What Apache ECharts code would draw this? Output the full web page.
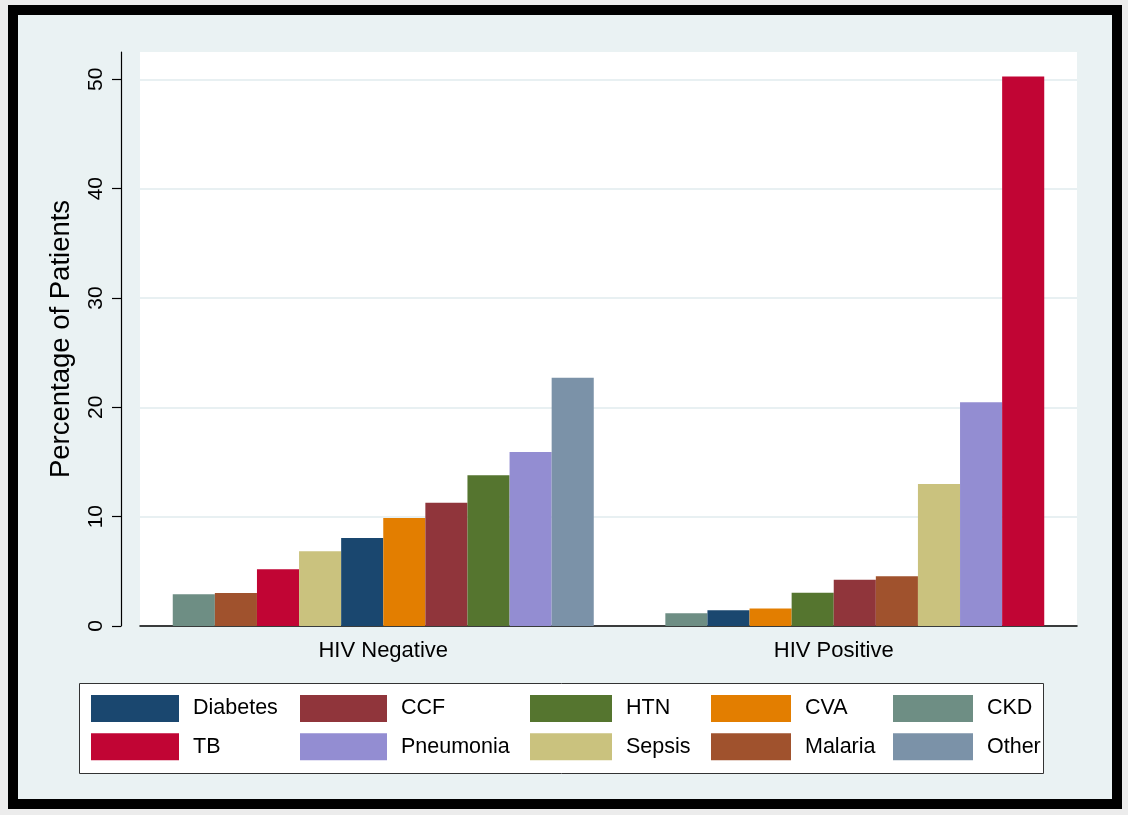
<!DOCTYPE html>
<html><head><meta charset="utf-8">
<script src="https://cdn.jsdelivr.net/npm/echarts@6/dist/echarts.min.js"></script>
<style>
html,body{margin:0;padding:0;background:#ececec;}
#frame{position:absolute;left:8px;top:5px;width:1114px;height:804px;box-sizing:border-box;border:10px solid #000;background:#eaf2f3;}
#chart{position:absolute;left:0;top:0;width:1128px;height:815px;}
</style></head><body>
<div id="frame"></div><div id="chart"></div>
<script>
const groups = ['HIV Negative', 'HIV Positive'];
const diseases = ['Diabetes', 'CCF', 'HTN', 'CVA', 'CKD', 'TB', 'Pneumonia', 'Sepsis', 'Malaria', 'Other'];
const hivNegative = [8.05, 11.28, 13.78, 9.88, 2.90, 5.18, 15.91, 6.84, 3.02, 22.71];
const hivPositive = [1.44, 4.24, 3.03, 1.59, 1.17, 50.26, 20.46, 12.99, 4.55, null];
const yTicks = [0, 10, 20, 30, 40, 50];

const colors = ['#1a476f', '#90353b', '#55752f', '#e37e00', '#6e8e84', '#c10534', '#938dd2', '#cac27e', '#a0522d', '#7b92a8'];
const FONT = '"Liberation Sans", Arial, sans-serif';

const groupValues = [hivNegative, hivPositive];
// bars within each group are sorted ascending (missing values first, drawn empty)
const sortedIdx = groupValues.map(vals =>
  diseases.map((d, i) => i).sort((a, b) => {
    const va = vals[a] == null ? -Infinity : vals[a];
    const vb = vals[b] == null ? -Infinity : vals[b];
    return va - vb;
  })
);

const rankSeries = diseases.map((_, r) => ({
  type: 'bar',
  name: 'rank' + r,
  barWidth: 42.1,
  barGap: '0%',
  silent: true,
  data: groupValues.map((vals, g) => {
    const i = sortedIdx[g][r];
    return {
      name: diseases[i],
      value: [g, vals[i] == null ? '-' : vals[i]],
      itemStyle: { color: colors[i] }
    };
  })
}));

const legendSeries = diseases.map((d, i) => ({
  type: 'line', name: d, data: [], color: colors[i], itemStyle: { color: colors[i] }
}));

const legendCols = [[0, 5], [1, 6], [2, 7], [3, 8], [4, 9]];
const colLeft = [91, 300, 530, 711, 893];
const colW = [88, 87, 82, 80, 80];

const chart = echarts.init(document.getElementById('chart'), null, { renderer: 'canvas' });
chart.setOption({
  animation: false,
  backgroundColor: 'transparent',
  textStyle: { fontFamily: FONT },
  grid: { left: 140, right: 51, top: 52, bottom: 189, show: true, backgroundColor: '#ffffff', borderWidth: 0 },
  xAxis: {
    type: 'value', min: -0.54, max: 1.54,
    axisLine: { show: true, onZero: false, lineStyle: { color: '#000', width: 1.5 } },
    axisTick: { show: false },
    splitLine: { show: false },
    axisLabel: {
      customValues: [0, 1],
      formatter: v => groups[Math.round(v)],
      fontSize: 22, color: '#000', margin: 14, fontFamily: FONT
    }
  },
  yAxis: {
    type: 'value', min: 0, max: 52.5, interval: 10, offset: 19,
    axisLine: { show: true, onZero: false, lineStyle: { color: '#000', width: 1.2 } },
    axisTick: { show: true, length: 9, customValues: yTicks, lineStyle: { color: '#000', width: 1.2 } },
    axisLabel: { customValues: yTicks, rotate: 90, fontSize: 21, color: '#000', margin: 14, fontFamily: FONT },
    splitLine: { show: true, lineStyle: { color: '#e1ebee', width: 1.5 } },
    name: 'Percentage of Patients', nameLocation: 'middle', nameGap: 46,
    nameTextStyle: { fontSize: 27.5, color: '#000', fontFamily: FONT }
  },
  legend: legendCols.map((c, k) => ({
    orient: 'vertical', left: colLeft[k], top: 695, padding: 0,
    itemWidth: colW[k], itemHeight: 27, itemGap: 11.3, icon: 'rect',
    selectedMode: false,
    data: c.map(i => diseases[i]),
    textStyle: { fontSize: 21.5, color: '#000', fontFamily: FONT, padding: [0, 0, 0, 9] }
  })),
  graphic: [{
    type: 'rect', left: 79, top: 683, z: 0,
    shape: { width: 964, height: 90 },
    style: { fill: '#ffffff', stroke: '#333', lineWidth: 1 }
  }],
  series: rankSeries.concat(legendSeries)
});
</script>
</body></html>
